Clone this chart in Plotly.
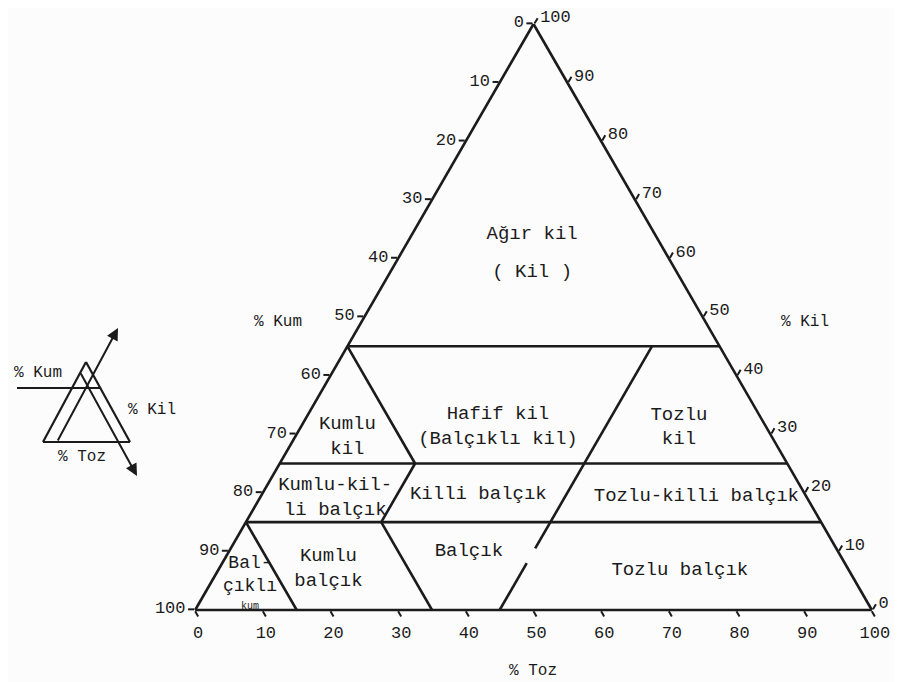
import plotly.graph_objects as go

# Toprak tekstur ucgeni: Kil (ust), Kum (sol alt), Toz (sag alt), yuzde
kil_cizgileri = [45, 25, 15]                      # sabit Kil
kum_cizgileri = [(55, 45, 25), (65, 15, 0), (85, 15, 0)]   # (Kum, Kil ust, Kil alt)
toz_cizgileri = [(20, 25, 15), (45, 45, 10.5), (45, 8, 0)]  # (Toz, Kil ust, Kil alt)

sinif_adlari = ["Ağır kil", "( Kil )", "Hafif kil<br>(Balçıklı kil)", "Tozlu<br>kil",
                "Kumlu<br>kil", "Kumlu-kil-<br>li balçık", "Killi balçık",
                "Tozlu-killi balçık", "Kumlu<br>balçık", "Balçık", "Tozlu balçık"]
sinif_kil = [64.2, 57.7, 31.3, 31.2, 29.6, 19.2, 19.7, 19.35, 7.0, 10.1, 6.85]
sinif_kum = [18.1, 21.35, 39.6, 12.9, 62.7, 69.7, 48.3, 16.25, 76.8, 54.5, 24.95]
sinif_toz = [17.7, 20.95, 29.1, 55.9, 7.7, 11.1, 32.0, 64.4, 16.2, 35.4, 68.2]

tik = list(range(0, 101, 10))
tik_yazi = [str(100 - t) for t in tik]

FONT = "Liberation Mono"
INK = "#1b1b1b"

fig = go.Figure()

def cizgi(a, b, c):
    fig.add_trace(go.Scatterternary(a=a, b=b, c=c, mode="lines",
                                    line=dict(color=INK, width=2.6),
                                    hoverinfo="skip", showlegend=False))

for k in kil_cizgileri:
    cizgi([k, k], [100 - k, 0], [0, 100 - k])
for m, ust, alt in kum_cizgileri:
    cizgi([ust, alt], [m, m], [100 - m - ust, 100 - m - alt])
for t, ust, alt in toz_cizgileri:
    cizgi([ust, alt], [100 - t - ust, 100 - t - alt], [t, t])

fig.add_trace(go.Scatterternary(a=sinif_kil, b=sinif_kum, c=sinif_toz, mode="text",
                                text=sinif_adlari,
                                textfont=dict(family=FONT, size=19, color=INK),
                                hoverinfo="skip", showlegend=False))
# dar kosedeki sinif
fig.add_trace(go.Scatterternary(a=[6.0], b=[88.9], c=[5.1], mode="text",
                                text=["Bal-<br>çıklı"],
                                textfont=dict(family=FONT, size=18, color=INK),
                                hoverinfo="skip", showlegend=False))
fig.add_trace(go.Scatterternary(a=[0.6], b=[91.6], c=[7.8], mode="text", text=["kum"],
                                textfont=dict(family=FONT, size=10, color=INK),
                                hoverinfo="skip", showlegend=False))

def eksen():
    return dict(min=0, tickvals=tik, ticktext=tik_yazi, showgrid=False,
                showline=True, linecolor=INK, linewidth=2.6,
                ticks="outside", ticklen=6, tickwidth=2, tickcolor=INK,
                tickfont=dict(family=FONT, size=17, color=INK), title=dict(text=""))

fig.update_layout(
    width=902, height=682,
    margin=dict(l=187, r=38, t=16, b=80),
    paper_bgcolor="#fcfcfc",
    ternary=dict(sum=100, bgcolor="#fcfcfc",
                 aaxis=eksen(), baxis=eksen(), caxis=eksen()),
)

# ekran pikseli -> paper (sayfa 8px kenar boslugu dahil)
def px(x):
    return (x - 195) / 677
def py(y):
    return (610 - y) / 586

def yazi(x, y, s, size=16):
    fig.add_annotation(x=px(x), y=py(y), xref="paper", yref="paper", text=s,
                       xanchor="center", yanchor="middle", showarrow=False,
                       font=dict(family=FONT, size=size, color=INK))

yazi(278, 322, "% Kum")
yazi(805, 322, "% Kil")
yazi(533, 671, "% Toz")

# sol taraftaki kucuk aciklama ucgeni
for x0, y0, x1, y1 in [(17, 388, 100, 388), (43, 442, 130, 442),
                       (43, 442, 86, 362), (86, 362, 130, 442)]:
    fig.add_shape(type="line", xref="paper", yref="paper",
                  x0=px(x0), y0=py(y0), x1=px(x1), y1=py(y1),
                  line=dict(color=INK, width=2.2))
for hx, hy, tx, ty in [(118, 328, 57, 442), (137, 476, 80, 372)]:
    fig.add_annotation(x=px(hx), y=py(hy), xref="paper", yref="paper",
                       ax=tx - hx, ay=ty - hy, showarrow=True, arrowhead=2,
                       arrowsize=1.2, arrowwidth=2, arrowcolor=INK, text="")
yazi(38, 373, "% Kum")
yazi(152, 410, "% Kil")
yazi(82, 457, "% Toz")

fig.write_html("out.html")
